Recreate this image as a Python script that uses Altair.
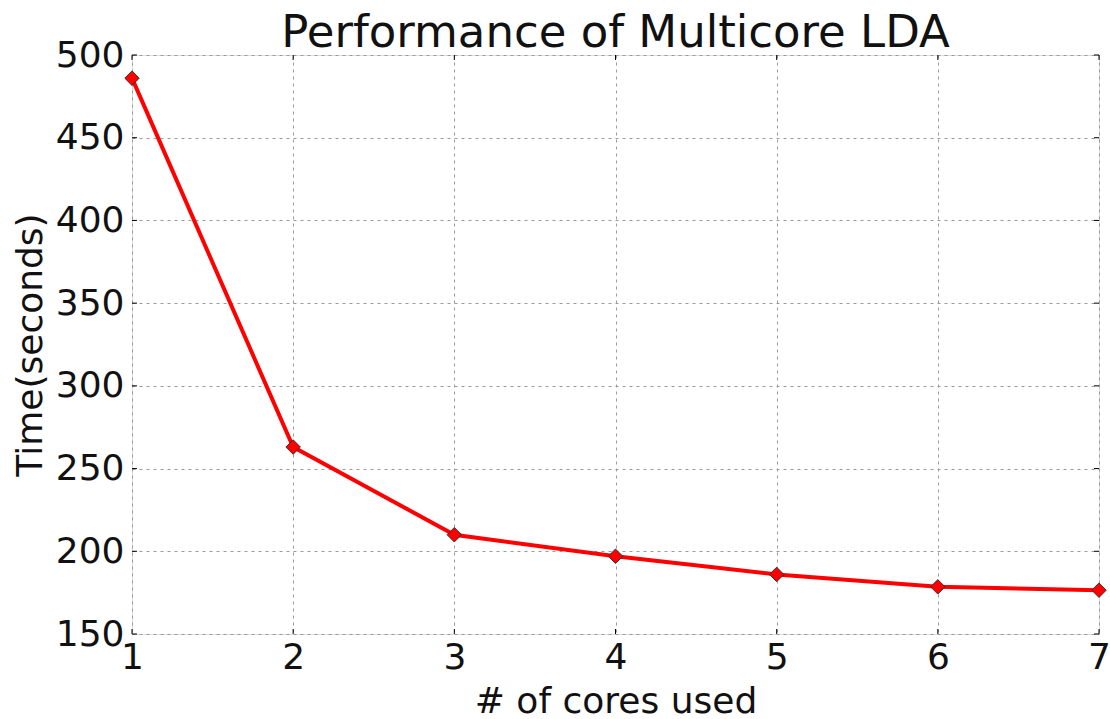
import altair as alt
import pandas as pd

# Runtime of multicore LDA by number of cores
cores = [1, 2, 3, 4, 5, 6, 7]
seconds = [486, 263, 210, 197, 186, 178.5, 176.5]

x_ticks = [1, 2, 3, 4, 5, 6, 7]
y_ticks = [150, 200, 250, 300, 350, 400, 450, 500]
chart_title = "Performance of Multicore LDA"

W, H = 967, 579
FONT = "DejaVu Sans"

df = pd.DataFrame({"cores": cores, "seconds": seconds})
xt = pd.DataFrame({"t": x_ticks})
yt = pd.DataFrame({"t": y_ticks})

xscale = alt.Scale(domain=[1, 7], nice=False, zero=False)
yscale = alt.Scale(domain=[150, 500], nice=False, zero=False)

x_axis = alt.Axis(
    values=x_ticks, format="d", grid=True, gridColor="#9a9a9a", gridDash=[3, 4],
    gridWidth=1, tickSize=0, labelFontSize=36, labelFont=FONT, labelColor="#111",
    labelPadding=6, labelOverlap=False, labelFlush=False, domain=False,
    title="# of cores used", titleFontSize=36, titleFont=FONT, titleFontWeight="normal",
    titleColor="#111", titleX=W / 2, titleY=78, titleBaseline="alphabetic",
    titleAlign="center",
)
y_axis = alt.Axis(
    values=y_ticks, format="d", grid=True, gridColor="#9a9a9a", gridDash=[3, 4],
    gridWidth=1, tickSize=0, labelFontSize=36, labelFont=FONT, labelColor="#111",
    labelPadding=8, labelOverlap=False, labelFlush=False, domain=False,
    labelBaseline="middle",
    title="Time(seconds)", titleFontSize=36, titleFont=FONT, titleFontWeight="normal",
    titleColor="#111", titleX=-102, titleY=H / 2, titleAngle=270,
    titleBaseline="middle", titleAlign="center",
)

line = alt.Chart(df).mark_line(color="#ff0000", strokeWidth=4).encode(
    x=alt.X("cores:Q", scale=xscale, axis=x_axis),
    y=alt.Y("seconds:Q", scale=yscale, axis=y_axis),
)

points = alt.Chart(df).mark_point(
    shape="diamond", filled=True, fill="#ff0000", stroke="#333333",
    strokeWidth=1, size=210, opacity=1,
).encode(
    x=alt.X("cores:Q", scale=xscale),
    y=alt.Y("seconds:Q", scale=yscale),
)

# inward tick marks on all four sides
tick_len = 5
x_bottom = alt.Chart(xt).mark_rule(color="#000", strokeWidth=1).encode(
    x=alt.X("t:Q", scale=xscale), y=alt.value(H), y2=alt.value(H - tick_len))
x_top = alt.Chart(xt).mark_rule(color="#000", strokeWidth=1).encode(
    x=alt.X("t:Q", scale=xscale), y=alt.value(0), y2=alt.value(tick_len))
y_left = alt.Chart(yt).mark_rule(color="#000", strokeWidth=1).encode(
    y=alt.Y("t:Q", scale=yscale), x=alt.value(0), x2=alt.value(tick_len))
y_right = alt.Chart(yt).mark_rule(color="#000", strokeWidth=1).encode(
    y=alt.Y("t:Q", scale=yscale), x=alt.value(W), x2=alt.value(W - tick_len))

# chart heading, centred over the plot
heading = alt.Chart(pd.DataFrame({"t": [chart_title]})).mark_text(
    font=FONT, fontSize=45, color="#111", align="center", baseline="alphabetic",
).encode(x=alt.value(W / 2), y=alt.value(-8), text="t:N")

chart = alt.layer(x_bottom, x_top, y_left, y_right, line, points, heading).properties(
    width=W, height=H,
    autosize=alt.AutoSizeParams(type="none"),
    padding={"left": 132, "top": 55, "right": 11, "bottom": 85},
).configure_view(
    stroke="#000", strokeWidth=1.2,
).configure(background="white")

chart.save("out.html", embed_options={"renderer": "svg", "actions": False})
